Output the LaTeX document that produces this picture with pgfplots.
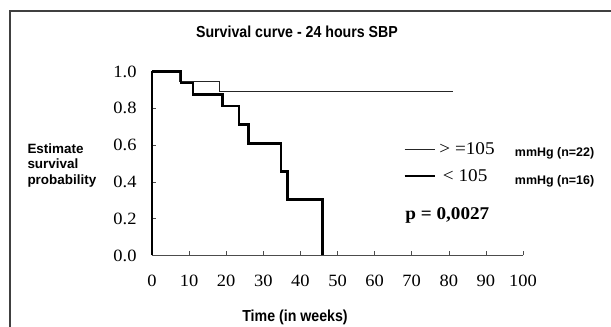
\documentclass[border=0pt]{standalone}
\usepackage{fontspec}
\setmainfont{Liberation Serif}[FakeStretch=1.07]
\setsansfont{Liberation Sans}
\newfontfamily\narrowsans{Liberation Sans}[FakeStretch=0.89]
\usepackage{pgfplots}
\pgfplotsset{compat=1.18}
\begin{document}
\begin{tikzpicture}
\useasboundingbox (0,0) rectangle (611bp,327bp);
\draw[line width=1.3bp, black!75] (10bp,0) -- (10bp,316bp) -- (611bp,316bp);
\node[font=\narrowsans\bfseries\fontsize{16}{18}\selectfont] at (297bp,295.5bp) {Survival curve - 24 hours SBP};
\node[font=\sffamily\bfseries\fontsize{13.5}{15.8}\selectfont, align=left, anchor=west] at (24bp,161.5bp) {Estimate\\survival\\probability};
\node[font=\narrowsans\bfseries\fontsize{16}{18}\selectfont] at (295bp,10bp) {Time (in weeks)};
\begin{axis}[
  at={(152bp,71.5bp)}, anchor=south west,
  scale only axis, width=371bp, height=184bp,
  xmin=0, xmax=100, ymin=0, ymax=1,
  axis x line*=bottom, axis y line*=left,
  x axis line style={black!70, line width=0.9bp, -},
  y axis line style={black, line width=1.1bp, -},
  xtick={0,10,20,30,40,50,60,70,80,90,100},
  ytick={0,0.2,0.4,0.6,0.8,1.0},
  tick align=inside, major tick length=4bp,
  tick style={black!70, line width=0.6bp},
  /pgf/number format/assume math mode=true,
  ticklabel style={font=\fontsize{17.3}{18}\selectfont},
  yticklabel style={xshift=-12bp, /pgf/number format/fixed, /pgf/number format/fixed zerofill, /pgf/number format/precision=1},
  xticklabel style={yshift=-16bp},
  clip=false,
  legend cell align=left,
  legend image code/.code={\draw[#1] (0bp,0bp) -- (30bp,0bp);},
  legend style={at={(axis cs:67.7,0.5035)}, anchor=west, draw=none, fill=none,
    inner sep=0pt, row sep=9bp, font=\fontsize{18}{20}\selectfont},
]
\addplot[const plot, black!85, line width=0.9bp] coordinates {
  (0,1) (7.5,0.944) (18.3,0.889) (81,0.889)
};
\addlegendentry{\makebox[77bp][l]{\hspace{1.5bp}> =105}\raisebox{-1.5bp}{\sffamily\bfseries\fontsize{12.5}{14}\selectfont mmHg (n=22)}}
\addplot[const plot, black, line width=2.6bp] coordinates {
  (0,1) (7.8,0.9375) (11.1,0.875) (19.0,0.8125) (23.5,0.711) (26.0,0.609) (34.8,0.457) (36.5,0.305) (45.9,0)
};
\addlegendentry{\makebox[77bp][l]{\hspace{5bp}< 105}\raisebox{-3bp}{\sffamily\bfseries\fontsize{12.5}{14}\selectfont mmHg (n=16)}}
\node[font=\bfseries\fontsize{18}{20}\selectfont] at (axis cs:79.6,0.215) {p = 0,0027};
\end{axis}
\end{tikzpicture}
\end{document}
